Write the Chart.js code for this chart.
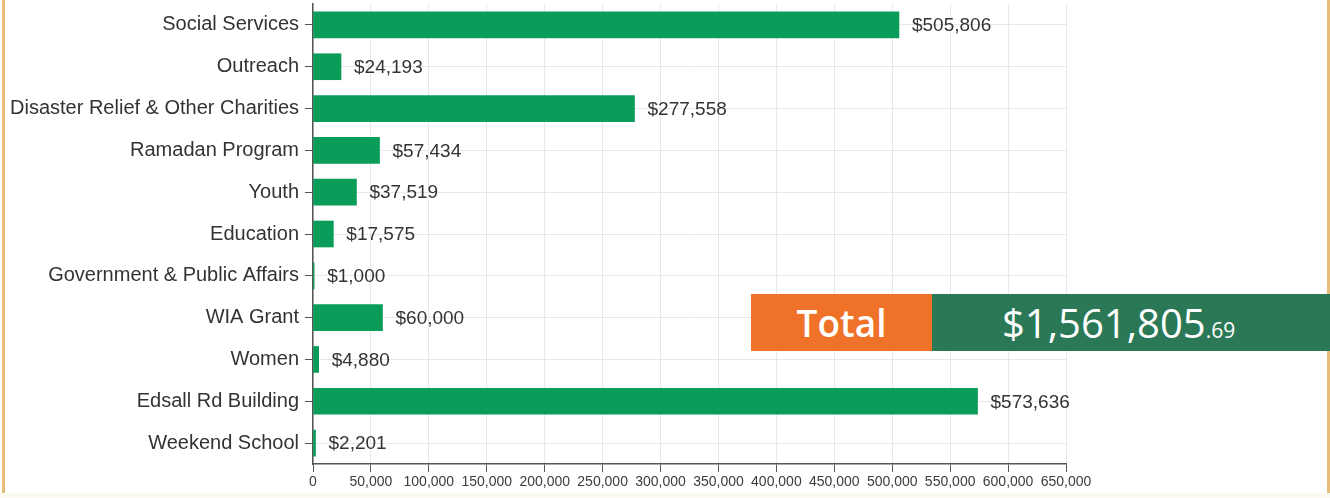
<!DOCTYPE html>
<html>
<head>
<meta charset="utf-8">
<script src="https://cdn.jsdelivr.net/npm/chart.js@4/dist/chart.umd.min.js"></script>
<style>
	html, body { margin: 0; padding: 0; background: #fff; }
	#wrap { position: relative; width: 1330px; height: 498px; overflow: hidden; }
	#chart { position: absolute; left: 0; top: 0; }
	.edge { position: absolute; top: 0; bottom: 0; width: 3px; background: #e8bd77; }
	#foot { position: absolute; left: 0; right: 0; bottom: 0; height: 5px; background: #fcf9f1; }
	#total { position: absolute; left: 751px; top: 294px; height: 57px; width: 580px; display: flex; color: #fff; font-family: "Open Sans", sans-serif; }
	#total .lbl { width: 181px; background: #f07229; font-weight: 600; font-size: 37px; line-height: 57px; text-align: center; }
	#total .val { flex: 1; background: #2a7856; font-weight: 500; font-size: 40px; line-height: 57px; padding-left: 70px; }
	#total .val small { font-size: 21px; font-weight: 400; }
</style>
</head>
<body>
<div id="wrap">
	<canvas id="chart" width="1330" height="498"></canvas>
	<div class="edge" style="left:2px"></div>
	<div class="edge" style="left:1327px"></div>
	<div id="foot"></div>
	<div id="total"><div class="lbl">Total</div><div class="val">$1,561,805<small>.69</small></div></div>
</div>
<script>
const categories = [
	"Social Services", "Outreach", "Disaster Relief & Other Charities", "Ramadan Program",
	"Youth", "Education", "Government & Public Affairs", "WIA Grant", "Women",
	"Edsall Rd Building", "Weekend School"
];
const amounts = [505806, 24193, 277558, 57434, 37519, 17575, 1000, 60000, 4880, 573636, 2201];
const xMax = 650000;
const xStep = 50000;

// writes "$505,806" after the end of every bar
const valueLabels = {
	id: "valueLabels",
	afterDatasetsDraw(chart) {
		let ctx = chart.ctx;
		let meta = chart.getDatasetMeta(0);
		ctx.save();
		ctx.font = "19px 'Liberation Sans Narrow', 'Liberation Sans', sans-serif";
		ctx.fillStyle = "#333";
		ctx.textBaseline = "middle";
		meta.data.forEach((bar, i) => {
			ctx.fillText("$" + amounts[i].toLocaleString("en-US"), bar.x + 13, bar.y + 1);
		});
		ctx.restore();
	}
};

new Chart(document.getElementById("chart"), {
	type: "bar",
	data: {
		labels: categories,
		datasets: [{
			data: amounts,
			backgroundColor: "#0a9d5a",
			barThickness: 26
		}]
	},
	options: {
		indexAxis: "y",
		responsive: false,
		animation: false,
		layout: { padding: { top: 4, right: 264, left: 0, bottom: 0 } },
		plugins: { legend: { display: false }, tooltip: { enabled: false } },
		scales: {
			x: {
				min: 0,
				max: xMax,
				afterFit(scale) { scale.height = 34; },
				ticks: {
					stepSize: xStep,
					color: "#3c3c3c",
					padding: 2,
					font: { family: "'Liberation Sans Narrow', 'Liberation Sans', sans-serif", size: 14 },
					callback: v => v.toLocaleString("en-US"),
					maxRotation: 0
				},
				grid: { color: "#e8e8e8", tickColor: "#555", tickLength: 8 },
				border: { color: "#555", width: 1.5 }
			},
			y: {
				afterFit(scale) {
					scale.width = 313;
					scale.paddingTop = 0;
					scale.paddingBottom = 0;
				},
				ticks: {
					color: "#333",
					padding: 6,
					font: { family: "'Liberation Sans Narrow', 'Liberation Sans', sans-serif", size: 20 }
				},
				grid: { offset: false, color: "#e8e8e8", tickColor: "#555", tickLength: 8 },
				border: { color: "#555", width: 1.5 }
			}
		}
	},
	plugins: [valueLabels]
});
</script>
</body>
</html>
